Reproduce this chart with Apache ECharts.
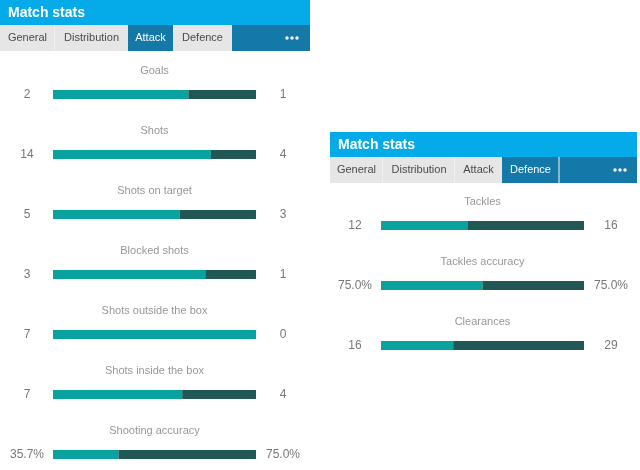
<!DOCTYPE html>
<html>
<head>
<meta charset="utf-8">
<script src="https://cdn.jsdelivr.net/npm/echarts@6/dist/echarts.min.js"></script>
<style>
  html, body { margin: 0; padding: 0; background: #fff; }
  #main { width: 640px; height: 470px; }
</style>
</head>
<body>
<div id="main"></div>
<script>
// attack panel
var attackStats = ['Goals', 'Shots', 'Shots on target', 'Blocked shots', 'Shots outside the box', 'Shots inside the box', 'Shooting accuracy'];
var attackHome = [2, 14, 5, 3, 7, 7, 35.7];
var attackAway = [1, 4, 3, 1, 0, 4, 75.0];
var attackHomeLabels = ['2', '14', '5', '3', '7', '7', '35.7%'];
var attackAwayLabels = ['1', '4', '3', '1', '0', '4', '75.0%'];

// defence panel
var defenceStats = ['Tackles', 'Tackles accuracy', 'Clearances'];
var defenceHome = [12, 75.0, 16];
var defenceAway = [16, 75.0, 29];
var defenceHomeLabels = ['12', '75.0%', '16'];
var defenceAwayLabels = ['16', '75.0%', '29'];

var tabNames = ['General', 'Distribution', 'Attack', 'Defence'];

var TEAL = '#09a29e';
var DARK = '#215755';
var SKY = '#05abe8';
var NAVY = '#1479a8';
var GREY = '#e6e6e6';
var FONT = '"Liberation Sans", Arial, sans-serif';
var HEAD_FONT = '"Liberation Sans Narrow", "Liberation Sans", Arial, sans-serif';

var myChart = echarts.init(document.getElementById('main'), null, { renderer: 'canvas' });

function share(a, b, own) {
    return a.map(function (v, i) {
        var tot = a[i] + b[i];
        return tot ? (own ? a[i] : b[i]) / tot : 0;
    });
}

// header block: title bar + tab row
function header(x, y, w, widths, active, dotX) {
    var els = [];
    els.push({ type: 'rect', shape: { x: x, y: y, width: w, height: 25 }, style: { fill: SKY } });
    els.push({ type: 'rect', shape: { x: x, y: y + 25, width: w, height: 26 }, style: { fill: NAVY } });
    els.push({ type: 'text', x: x + 8, y: y + 13, style: { text: 'Match stats', fill: '#fff', font: 'bold 14px ' + HEAD_FONT, textVerticalAlign: 'middle' } });
    var cx = x;
    widths.forEach(function (tw, i) {
        var on = i === active;
        els.push({ type: 'rect', shape: { x: cx, y: y + 25, width: tw, height: 26 }, style: { fill: on ? NAVY : GREY } });
        els.push({ type: 'text', x: cx + tw / 2, y: y + 38, style: { text: tabNames[i], fill: on ? '#fff' : '#4a4a4a', font: '11px ' + FONT, textAlign: 'center', textVerticalAlign: 'middle' } });
        cx += tw;
        var nextOn = i + 1 === active;
        if ((i < widths.length - 1 && !on && !nextOn) || (on && i === widths.length - 1)) {
            els.push({ type: 'rect', shape: { x: cx - 0.5, y: y + 25, width: 1, height: 26 }, style: { fill: '#fafafa' } });
        }
    });
    [-5, 0, 5].forEach(function (d) {
        els.push({ type: 'circle', shape: { cx: dotX + d, cy: y + 38, r: 1.7 }, style: { fill: '#fff' } });
    });
    return els;
}

var graphics = []
    .concat(header(0, 0, 310, [55, 73, 45, 59], 2, 292))
    .concat(header(330, 132, 307, [53, 72, 47, 57], 3, 620));

function yAxes(gi, stats, labels, pos, margin) {
    return {
        type: 'category', gridIndex: gi, data: stats, inverse: true, position: pos,
        axisLine: { show: false }, axisTick: { show: false }, splitLine: { show: false },
        axisLabel: {
            margin: margin, align: 'center', color: '#777', fontSize: 12, fontFamily: FONT,
            formatter: function (v, idx) { return labels[idx]; }
        }
    };
}

function panelSeries(idx, stats, home, away) {
    var y = idx * 2;
    return [
        { type: 'bar', xAxisIndex: idx, yAxisIndex: y, stack: 's' + idx, barWidth: 9, silent: true,
          itemStyle: { color: TEAL }, data: share(home, away, true) },
        { type: 'bar', xAxisIndex: idx, yAxisIndex: y, stack: 's' + idx, barWidth: 9, silent: true,
          itemStyle: { color: DARK }, data: share(home, away, false) },
        { type: 'scatter', xAxisIndex: idx, yAxisIndex: y, symbolSize: 1, silent: true,
          itemStyle: { color: 'rgba(0,0,0,0)' },
          data: stats.map(function (s, i) { return [0.5, i]; }),
          label: { show: true, position: 'top', distance: 18, color: '#7d7d7d', fontSize: 11, fontFamily: FONT,
                   formatter: function (p) { return stats[p.dataIndex]; } } }
    ];
}

var option = {
    animation: false,
    graphic: graphics,
    grid: [
        { left: 53, top: 64.5, width: 203, height: 420, outerBoundsMode: 'none', containLabel: false },
        { left: 381, top: 195.5, width: 203, height: 180, outerBoundsMode: 'none', containLabel: false }
    ],
    xAxis: [
        { type: 'value', gridIndex: 0, min: 0, max: 1, show: false },
        { type: 'value', gridIndex: 1, min: 0, max: 1, show: false }
    ],
    yAxis: [
        yAxes(0, attackStats, attackHomeLabels, 'left', 26),
        yAxes(0, attackStats, attackAwayLabels, 'right', 27),
        yAxes(1, defenceStats, defenceHomeLabels, 'left', 26),
        yAxes(1, defenceStats, defenceAwayLabels, 'right', 27)
    ],
    series: panelSeries(0, attackStats, attackHome, attackAway)
        .concat(panelSeries(1, defenceStats, defenceHome, defenceAway))
};

myChart.setOption(option);
</script>
</body>
</html>
